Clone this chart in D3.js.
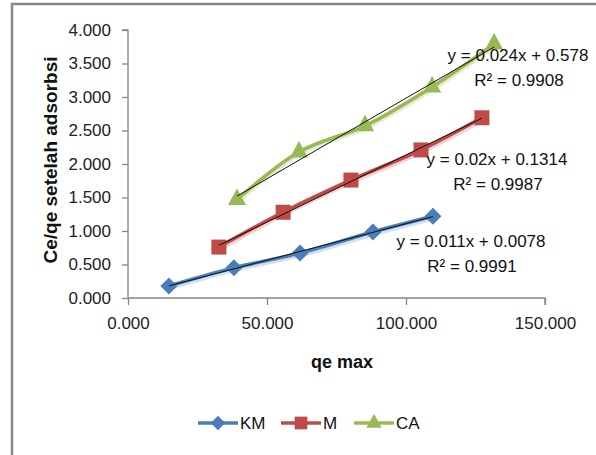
<!DOCTYPE html>
<html>
<head>
<meta charset="utf-8">
<script src="https://cdn.jsdelivr.net/npm/d3@7"></script>
<style>
  body { margin: 0; background: #fff; }
  svg { display: block; font-family: "Liberation Sans", Arial, sans-serif; }
</style>
</head>
<body>
<div id="chart"></div>
<script>
(function() {

    // values
    var seriesNames = ["KM", "M", "CA"];
    var kmX = [14.7, 38.1, 61.9, 88.1, 109.7],
        kmY = [0.18, 0.45, 0.67, 0.985, 1.22];
    var mX = [32.7, 55.8, 80.2, 105.4, 127.3],
        mY = [0.76, 1.28, 1.76, 2.21, 2.69];
    var caX = [39.2, 61.5, 85.3, 109.4, 131.7],
        caY = [1.47, 2.18, 2.57, 3.15, 3.79];
    var eqLabels = ["y = 0.011x + 0.0078", "y = 0.02x + 0.1314", "y = 0.024x + 0.578"];
    var r2Labels = ["R² = 0.9991", "R² = 0.9987", "R² = 0.9908"];
    var xTicks = [0, 50, 100, 150];
    var yTicks = [0, 0.5, 1, 1.5, 2, 2.5, 3, 3.5, 4];

    var colors = ["#4a7ebb", "#be4b48", "#98b954"];
    var shapes = ["diamond", "square", "triangle"];

    var width = 596,
        height = 455;

    var svg = d3.select("#chart")
        .append("svg")
        .attr("width", width)
        .attr("height", height);

    // outer chart frame (runs off the right and bottom edges)
    svg.append("rect")
        .attr("x", 12)
        .attr("y", 4)
        .attr("width", 620)
        .attr("height", 480)
        .attr("fill", "none")
        .attr("stroke", "#868686")
        .attr("stroke-width", 2.5);

    var x = d3.scaleLinear().domain([0, 150]).range([128, 545]);
    var y = d3.scaleLinear().domain([0, 4]).range([298, 30]);

    var axisColor = "#868686";

    // y axis
    var yAxis = svg.append("g")
        .attr("transform", "translate(128,0)")
        .call(d3.axisLeft(y).tickValues(yTicks).tickSize(6).tickPadding(11).tickFormat(d3.format(".3f")));
    // x axis
    var xAxis = svg.append("g")
        .attr("transform", "translate(0,298)")
        .call(d3.axisBottom(x).tickValues(xTicks).tickSize(7).tickPadding(12).tickFormat(d3.format(".3f")));

    [yAxis, xAxis].forEach(function(a) {
        a.select(".domain").attr("stroke", axisColor).attr("stroke-width", 1.3);
        a.selectAll(".tick line").attr("stroke", axisColor).attr("stroke-width", 1.3);
        a.selectAll(".tick text")
            .attr("fill", "#222")
            .style("font-size", "17px")
            .style("font-family", "'Liberation Sans', Arial, sans-serif");
    });
    yAxis.select(".domain").attr("d", "M-6," + y(4) + "H0V" + y(0));
    xAxis.select(".domain").attr("d", "M" + x(0) + ",0H" + x(150) + "V7");

    // axis titles
    svg.append("text")
        .attr("transform", "translate(57,160) rotate(-90)")
        .attr("text-anchor", "middle")
        .style("font-size", "19px")
        .style("font-weight", "bold")
        .attr("fill", "#111")
        .text("Ce/qe setelah adsorbsi");

    svg.append("text")
        .attr("x", 342)
        .attr("y", 368)
        .attr("text-anchor", "middle")
        .style("font-size", "18px")
        .style("font-weight", "bold")
        .attr("fill", "#111")
        .text("qe max");

    var series = [
        { xs: kmX, ys: kmY },
        { xs: mX, ys: mY },
        { xs: caX, ys: caY }
    ];

    function markerPath(shape) {
        if (shape === "diamond") return "M0,-8.5L8.5,0L0,8.5L-8.5,0Z";
        if (shape === "square") return "M-7.5,-7.5H7.5V7.5H-7.5Z";
        return "M0,-11L9,5.5L-9,5.5Z";
    }

    var line = d3.line()
        .x(function(d) { return x(d[0]); })
        .y(function(d) { return y(d[1]); })
        .curve(d3.curveCatmullRom.alpha(0.5));

    // least squares fit for the trendlines
    function fit(xs, ys) {
        var mx = d3.mean(xs), my = d3.mean(ys);
        var num = d3.sum(xs, function(v, i) { return (v - mx) * (ys[i] - my); });
        var den = d3.sum(xs, function(v) { return (v - mx) * (v - mx); });
        var b = num / den;
        return { b: b, a: my - b * mx };
    }

    series.forEach(function(s, i) {
        var pts = s.xs.map(function(v, j) { return [v, s.ys[j]]; });
        var g = svg.append("g");

        // soft glow under the series line
        g.append("path")
            .attr("d", line(pts))
            .attr("fill", "none")
            .attr("stroke", colors[i])
            .attr("stroke-opacity", 0.25)
            .attr("stroke-width", 6.5)
            .attr("transform", "translate(0.5,1)");
        g.append("path")
            .attr("d", line(pts))
            .attr("fill", "none")
            .attr("stroke", colors[i])
            .attr("stroke-width", 3.5)
            .attr("stroke-linejoin", "round");

        g.selectAll(".marker")
            .data(pts)
            .enter()
            .append("path")
            .attr("class", "marker")
            .attr("d", markerPath(shapes[i]))
            .attr("transform", function(d) { return "translate(" + x(d[0]) + "," + y(d[1]) + ")"; })
            .attr("fill", colors[i]);
    });

    // black trendlines drawn over the series
    series.forEach(function(s) {
        var f = fit(s.xs, s.ys);
        var x0 = d3.min(s.xs), x1 = d3.max(s.xs);
        svg.append("line")
            .attr("x1", x(x0)).attr("y1", y(f.a + f.b * x0))
            .attr("x2", x(x1)).attr("y2", y(f.a + f.b * x1))
            .attr("stroke", "#111")
            .attr("stroke-width", 1);
    });

    // equation labels
    var eqPos = [[471, 247], [497, 165], [518, 61]];
    series.forEach(function(s, i) {
        var t = svg.append("text")
            .attr("text-anchor", "middle")
            .style("font-size", "17px")
            .attr("fill", "#111");
        t.append("tspan")
            .attr("x", eqPos[i][0])
            .attr("y", eqPos[i][1])
            .text(eqLabels[i]);
        t.append("tspan")
            .attr("x", eqPos[i][0] + 1)
            .attr("y", eqPos[i][1] + 25)
            .text(r2Labels[i]);
    });

    // legend
    var legendX = [198, 281, 354];
    var legend = svg.append("g");
    seriesNames.forEach(function(name, i) {
        var lg = legend.append("g").attr("transform", "translate(" + legendX[i] + ",423)");
        lg.append("line")
            .attr("x1", 0).attr("x2", 40)
            .attr("stroke", colors[i])
            .attr("stroke-width", 3.5);
        lg.append("path")
            .attr("d", markerPath(shapes[i]))
            .attr("transform", "translate(20,0) scale(0.85)")
            .attr("fill", colors[i]);
        lg.append("text")
            .attr("x", 42)
            .attr("y", 6)
            .style("font-size", "17px")
            .attr("fill", "#111")
            .text(name);
    });

})();
</script>
</body>
</html>
